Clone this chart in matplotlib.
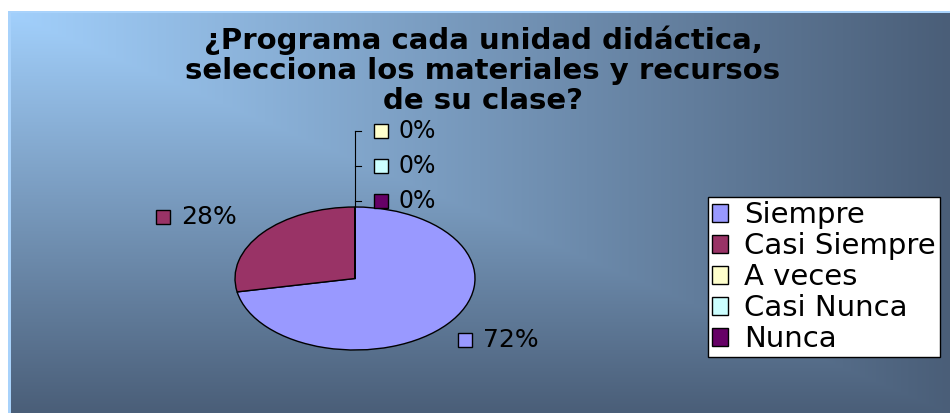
import numpy as np
import matplotlib
matplotlib.use("Agg")
import matplotlib.pyplot as plt
from matplotlib.colors import to_rgb

plt.rcParams['font.family'] = ['DejaVu Sans']

title = "¿Programa cada unidad didáctica,\nselecciona los materiales y recursos\nde su clase?"
categories = ["Siempre", "Casi Siempre", "A veces", "Casi Nunca", "Nunca"]
values = [72, 28, 0, 0, 0]
colors = ["#9999FF", "#993366", "#FFFFCC", "#CCFFFF", "#660066"]

W, H = 950, 413
fig = plt.figure(figsize=(W / 100, H / 100), dpi=100)

# background: corner gradient, light blue top-left -> slate
bg = fig.add_axes([0, 0, 1, 1])
yy, xx = np.mgrid[0:H, 0:W]
u = (xx - 8) / (W - 8)
v = (yy - 12) / (H - 12)
t = np.clip(np.maximum(u, v), 0, 1)
light = np.array(to_rgb("#a2d0fc"))
dark = np.array(to_rgb("#4a5e78"))
img = light[None, None, :] * (1 - t[..., None]) + dark[None, None, :] * t[..., None]
edge = np.array(to_rgb("#a8d2fb"))
img[((yy >= 11) & (yy < 13) & (xx >= 8)) | ((xx >= 8) & (xx < 11) & (yy >= 11))] = edge
img[(xx < 8) | (yy < 11)] = 1.0
bg.imshow(img, extent=[0, W, H, 0], aspect='auto', interpolation='bilinear')
bg.set_xlim(0, W)
bg.set_ylim(H, 0)
bg.axis('off')

fig.text(483 / W, 1 - 70 / H, title, ha='center', va='center', fontsize=21,
         fontweight='bold', linespacing=1.08, color='black')

# pie (drawn squashed like the original)
ax = fig.add_axes([235 / W, 63 / H, 240 / W, 143 / H])
wedges, _ = ax.pie(values, colors=colors, startangle=90, counterclock=False,
                   wedgeprops=dict(edgecolor='black', linewidth=1.0))
ax.set_aspect('auto')
ax.set_xlim(-1, 1)
ax.set_ylim(-1, 1)
ax.axis('off')

zero_items = []
for w, val, col in zip(wedges, values, colors):
    if val > 0:
        mid = np.deg2rad((w.theta1 + w.theta2) / 2)
        cx, cy = 1.63 * np.cos(mid), 1.34 * np.sin(mid)
        ax.plot(cx - 0.34, cy, marker='s', ms=10, mfc=col, mec='black', mew=1,
                clip_on=False)
        ax.text(cx - 0.19, cy, f"{val}%", ha='left', va='center', fontsize=18,
                clip_on=False)
    else:
        zero_items.append((val, col))

# zero slices: stacked labels on a leader line above the pie top
zero_items = zero_items[::-1]
ys = [1.083 + 0.49 * i for i in range(len(zero_items))]
if ys:
    ax.plot([0, 0], [1.0, ys[-1]], color='black', lw=0.8, clip_on=False)
for (val, col), y in zip(zero_items, ys):
    ax.plot([0, 0.05], [y, y], color='black', lw=0.8, clip_on=False)
    ax.plot(0.217, y, marker='s', ms=10, mfc=col, mec='black', mew=1,
            clip_on=False)
    ax.text(0.36, y, f"{val}%", ha='left', va='center', fontsize=17,
            clip_on=False)

leg = ax.legend(wedges, categories, loc='upper left',
                bbox_to_anchor=(708 / W, 1 - 197 / H), bbox_transform=fig.transFigure,
                fontsize=21, frameon=True, fancybox=False, edgecolor='black',
                framealpha=1, handlelength=0.55, handleheight=0.55, handletextpad=0.55,
                labelspacing=0.1, borderpad=0.15, borderaxespad=0)
leg.get_frame().set_linewidth(1.0)

fig.savefig("out.png", dpi=100)
